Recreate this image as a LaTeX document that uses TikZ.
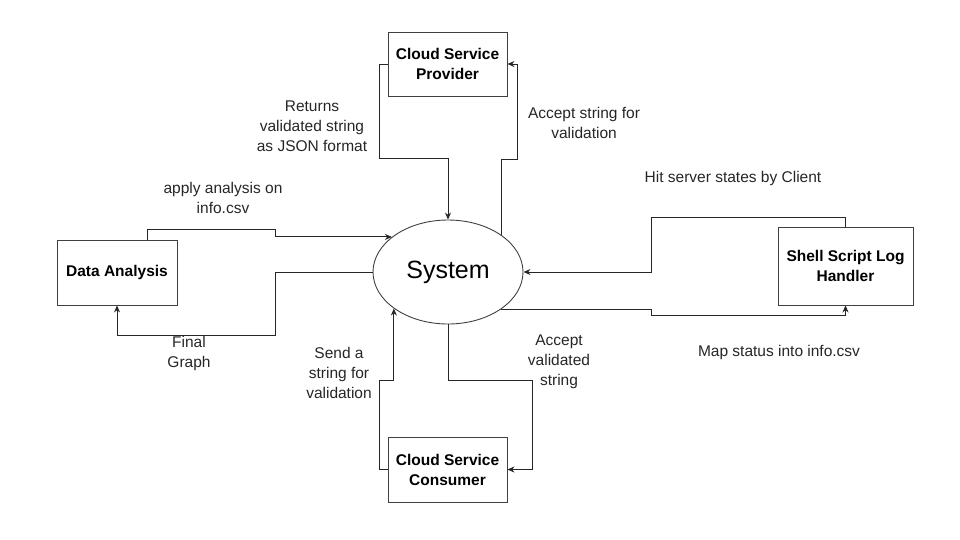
\documentclass[tikz,border=0pt]{standalone}
\usepackage{fontspec}
\setmainfont{Liberation Sans}
\usetikzlibrary{arrows.meta,shapes.geometric}
\begin{document}
\begin{tikzpicture}[x=1pt,y=-1pt,
  box/.style={draw=black!75,line width=0.9pt,inner sep=0pt,align=center,font=\fontsize{15.5}{20}\selectfont\bfseries},
  lbl/.style={align=center,inner sep=0pt,font=\fontsize{15.5}{20}\selectfont,text=black!85},
  arr/.style={draw=black!85,line width=0.9pt,-{Stealth[length=7pt,width=6pt]}}]
\useasboundingbox (0,0) rectangle (960,539);
\node[box,minimum width=119pt,minimum height=64pt] (prov) at (447.5,64) {Cloud Service\\Provider};
\node[box,minimum width=120pt,minimum height=65pt] (da) at (117,272.5) {Data Analysis};
\node[box,minimum width=119pt,minimum height=65pt] (cons) at (447.5,469.5) {Cloud Service\\Consumer};
\node[box,minimum width=135pt,minimum height=78pt] (shell) at (845.5,266) {Shell Script Log\\Handler};
\node[ellipse,draw=black!75,line width=0.9pt,minimum width=150pt,minimum height=104pt,inner sep=0pt,font=\fontsize{25}{30}\selectfont] (sys) at (448,272) {System};

\draw[arr] (prov.west) -| (379,158) -| (sys.north);
\draw[arr] (sys.north east) |- (517,159) |- (prov.east);
\draw[arr] ([xshift=30pt]da.north) |- (275,229) |- (sys.148);
\draw[arr] (sys.west) -| (275,335) -| (da.south);
\draw[arr] (sys.south east) -| (651,315) -| (shell.south);
\draw[arr] (shell.north) |- (651,217) |- (sys.east);
\draw[arr] (cons.west) -| (379,380) -| (sys.214);
\draw[arr] (sys.south) |- (532,380) |- (cons.east);

\node[lbl] (l1) at (312,126) {Returns\\validated string\\as JSON format};
\node[lbl] (l2) at (584,123) {Accept string for\\validation};
\node[lbl] (l3) at (223,198) {apply analysis on\\info.csv};
\node[lbl] (l4) at (189,353) {Final\\Graph};
\node[lbl] (l5) at (733,178) {Hit server states by Client};
\node[lbl] (l6) at (779,352) {Map status into info.csv};
\node[lbl] (l7) at (339,373) {Send a\\string for\\validation};
\node[lbl] (l8) at (559,362) {Accept\\validated\\string};
\end{tikzpicture}
\end{document}
